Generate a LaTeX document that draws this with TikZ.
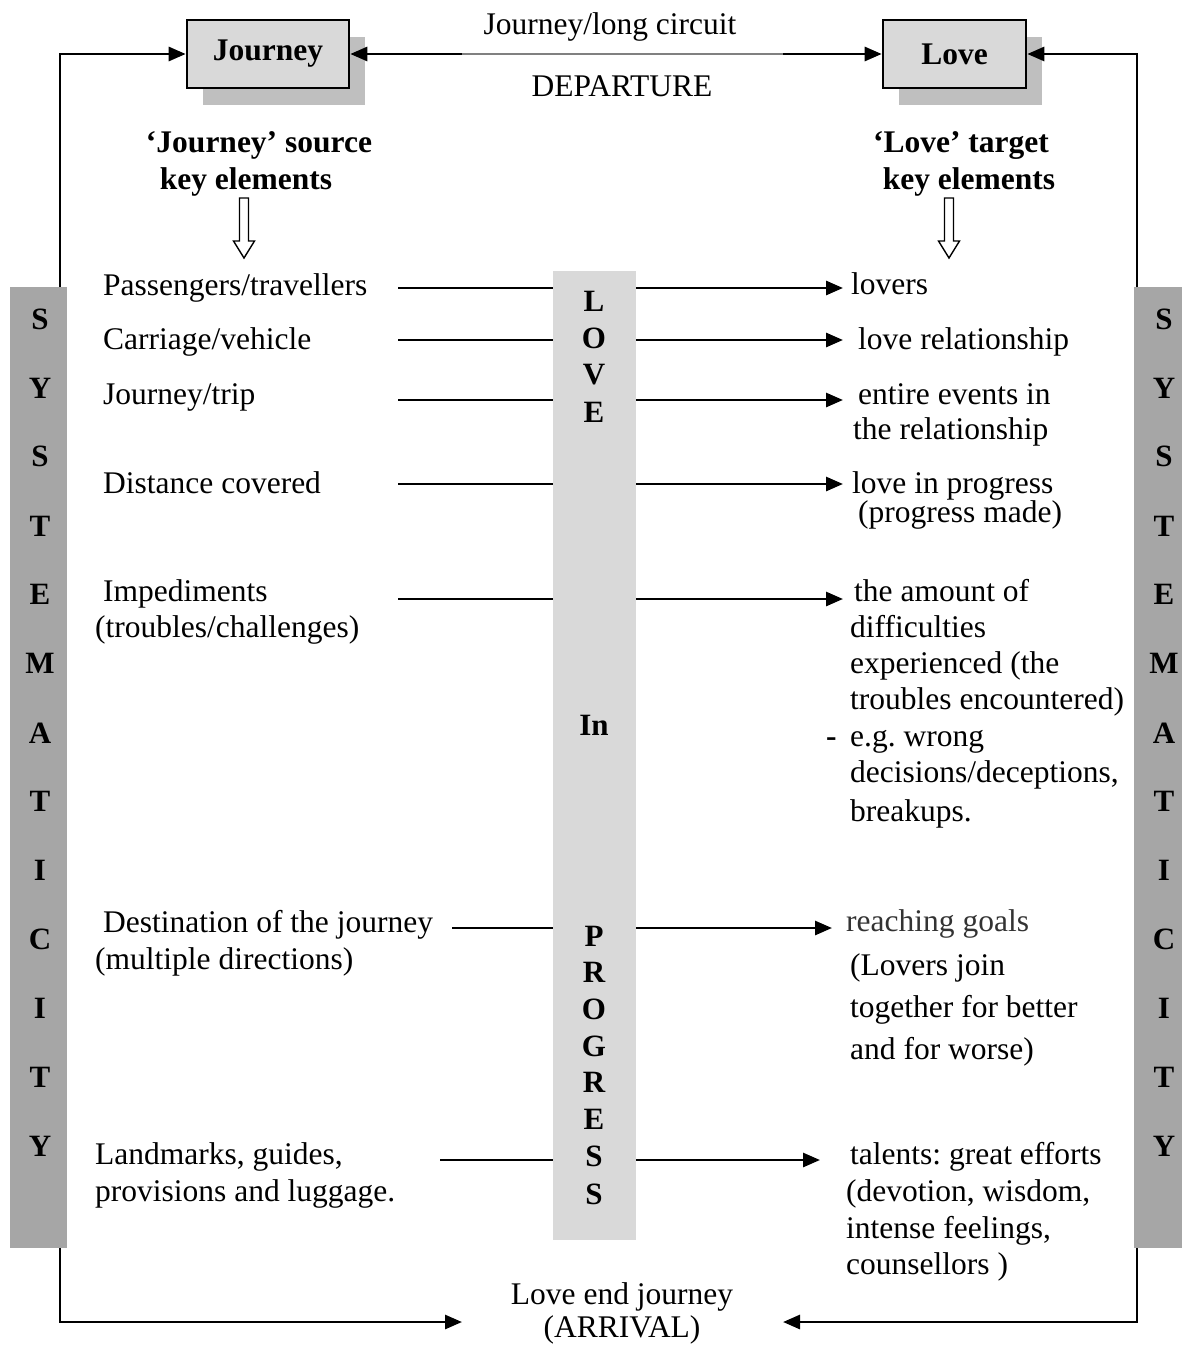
\documentclass[tikz,border=0pt]{standalone}
\usepackage{fontspec}
\setmainfont{Liberation Serif}
\usetikzlibrary{arrows.meta}
\definecolor{boxgray}{HTML}{D9D9D9}
\definecolor{shadegray}{HTML}{BFBFBF}
\definecolor{bargray}{HTML}{A6A6A6}
\definecolor{rulegray}{HTML}{808080}
\frenchspacing
\begin{document}
\begin{tikzpicture}[x=1pt,y=-1pt,
  txt/.style={font=\fontsize{31.5}{36}\selectfont, inner sep=0pt, anchor=base west},
  ctxt/.style={font=\fontsize{31.5}{36}\selectfont, inner sep=0pt, anchor=base},
  head/.style={font=\fontsize{31.5}{36}\selectfont\bfseries, inner sep=0pt, anchor=base},
  letter/.style={font=\fontsize{31}{31}\selectfont\bfseries, inner sep=0pt, anchor=base},
  titlebox/.style={draw=black, line width=2.6pt, fill=boxgray, minimum height=68pt,
    font=\fontsize{31.5}{36}\selectfont\bfseries,
    preaction={fill=shadegray, transform canvas={xshift=16pt, yshift=-17pt}}},
  bar/.style={inner sep=0pt, anchor=north west},
  link/.style={line width=2.8pt, draw=black},
  tip/.tip={Triangle[length=17pt, width=14pt]},
  arr/.style={link, -tip},
  hollow/.style={draw=black, line width=1.4pt, fill=white}
]
\useasboundingbox (0,0) rectangle (1182,1346);

% grey bars
\node[bar, fill=bargray, minimum width=57pt, minimum height=961pt] (leftbar) at (10,287) {};
\node[bar, fill=bargray, minimum width=56pt, minimum height=961pt] (rightbar) at (1134,287) {};
\node[bar, fill=boxgray, minimum width=83pt, minimum height=969pt] (centerbar) at (553,271) {};

% title boxes
\node[titlebox, minimum width=162pt] (journey) at (268,54) {Journey};
\node[titlebox, minimum width=143pt] (love) at (954.5,54) {Love};

% departure link between the boxes
\draw[link, tip-tip] (journey.east) -- (love.west);
\coordinate (gs) at (462,54);
\coordinate (ge) at (783,54);
\draw[white, line width=3pt] (gs) -- (ge);
\draw[rulegray, line width=1.8pt] (gs) -- (ge);
\node[ctxt] (circuit) at (610,35) {Journey/long circuit};
\node[ctxt] (departure) at (622,96) {DEPARTURE};

% outer loops
\draw[arr] ([xshift=50pt]leftbar.north west) |- (journey.west);
\draw[arr] ([xshift=3pt]rightbar.north west) |- (love.east);
\coordinate (arrL) at (462,1322);
\coordinate (arrR) at (783,1322);
\draw[arr] ([xshift=50pt]leftbar.south west) |- (arrL);
\draw[arr] ([xshift=3pt]rightbar.south west) |- (arrR);
\node[ctxt] (arrival1) at (622,1304) {Love end journey};
\node[ctxt] (arrival2) at (622,1337) {(ARRIVAL)};

% column headings
\node[head] (srcA) at (259,152) {‘Journey’ source};
\node[head] (srcB) at (246,189) {key elements};
\node[head] (tgtA) at (961,152) {‘Love’ target};
\node[head] (tgtB) at (969,189) {key elements};

% hollow down arrows
\coordinate (ha) at (244,198);
\coordinate (hb) at (949,198);
\foreach \c in {ha,hb}{
  \draw[hollow] ([xshift=-4.5pt]\c) -- ([xshift=4.5pt]\c) -- ([xshift=4.5pt,yshift=-43pt]\c)
    -- ([xshift=10.5pt,yshift=-43pt]\c) -- ([yshift=-60pt]\c) -- ([xshift=-10.5pt,yshift=-43pt]\c)
    -- ([xshift=-4.5pt,yshift=-43pt]\c) -- cycle;
}

% mapping connectors
\foreach \y/\xs/\xt [count=\i] in {288/398/843, 340/398/843, 400/398/843, 484/398/843,
    599/398/843, 928/452/832, 1160/440/820}{
  \coordinate (src\i) at (\xs,\y);
  \coordinate (tgt\i) at (\xt,\y);
  \draw[link] (src\i) -- (src\i -| centerbar.west);
  \draw[arr] (src\i -| centerbar.east) -- (tgt\i);
}

% source elements
\node[txt] (s1) at (103,295) {Passengers/travellers};
\node[txt] (s2) at (103,349) {Carriage/vehicle};
\node[txt] (s3) at (103,404) {Journey/trip};
\node[txt] (s4) at (103,493) {Distance covered};
\node[txt] (s5a) at (103,601) {Impediments};
\node[txt] (s5b) at (95,637) {(troubles/challenges)};
\node[txt] (s6a) at (103,932) {Destination of the journey};
\node[txt] (s6b) at (95,969) {(multiple directions)};
\node[txt] (s7a) at (95,1164) {Landmarks, guides,};
\node[txt] (s7b) at (95,1201) {provisions and luggage.};

% target elements
\node[txt] (t1) at (851,294) {lovers};
\node[txt] (t2) at (858,349) {love relationship};
\node[txt] (t3a) at (858,404) {entire events in};
\node[txt] (t3b) at (853,439) {the relationship};
\node[txt] (t4a) at (852,493) {love in progress};
\node[txt] (t4b) at (858,522) {(progress made)};
\node[txt] (t5a) at (854,601) {the amount of};
\node[txt] (t5b) at (850,637) {difficulties};
\node[txt] (t5c) at (850,673) {experienced (the};
\node[txt] (t5d) at (850,709) {troubles encountered)};
\node[txt, font=\fontsize{31.5}{36}\selectfont\bfseries] (t5dash) at (826,746) {-};
\node[txt] (t5e) at (850,746) {e.g. wrong};
\node[txt] (t5f) at (850,782) {decisions/deceptions,};
\node[txt] (t5g) at (850,821) {breakups.};
\node[txt, text=black!80] (t6a) at (846,931) {reaching goals};
\node[txt] (t6b) at (850,975) {(Lovers join};
\node[txt] (t6c) at (850,1017) {together for better};
\node[txt] (t6d) at (850,1059) {and for worse)};
\node[txt] (t7a) at (850,1164) {talents: great efforts};
\node[txt] (t7b) at (846,1201) {(devotion, wisdom,};
\node[txt] (t7c) at (846,1238) {intense feelings,};
\node[txt] (t7d) at (846,1274) {counsellors )};

% centre bar lettering
\foreach \l/\y [count=\i] in {L/311, O/348, V/384, E/422, In/735, P/946, R/982, O/1019,
    G/1056, R/1092, E/1129, S/1166, S/1204}{
  \node[letter] (c\i) at (594,\y) {\l};
}

% side bar lettering
\foreach \l/\y [count=\i] in {S/329, Y/398, S/466, T/536, E/604, M/673, A/743, T/811,
    I/880, C/949, I/1018, T/1087, Y/1156}{
  \node[letter] (lb\i) at (40,\y) {\l};
  \node[letter] (rb\i) at (1164,\y) {\l};
}
\end{tikzpicture}
\end{document}
